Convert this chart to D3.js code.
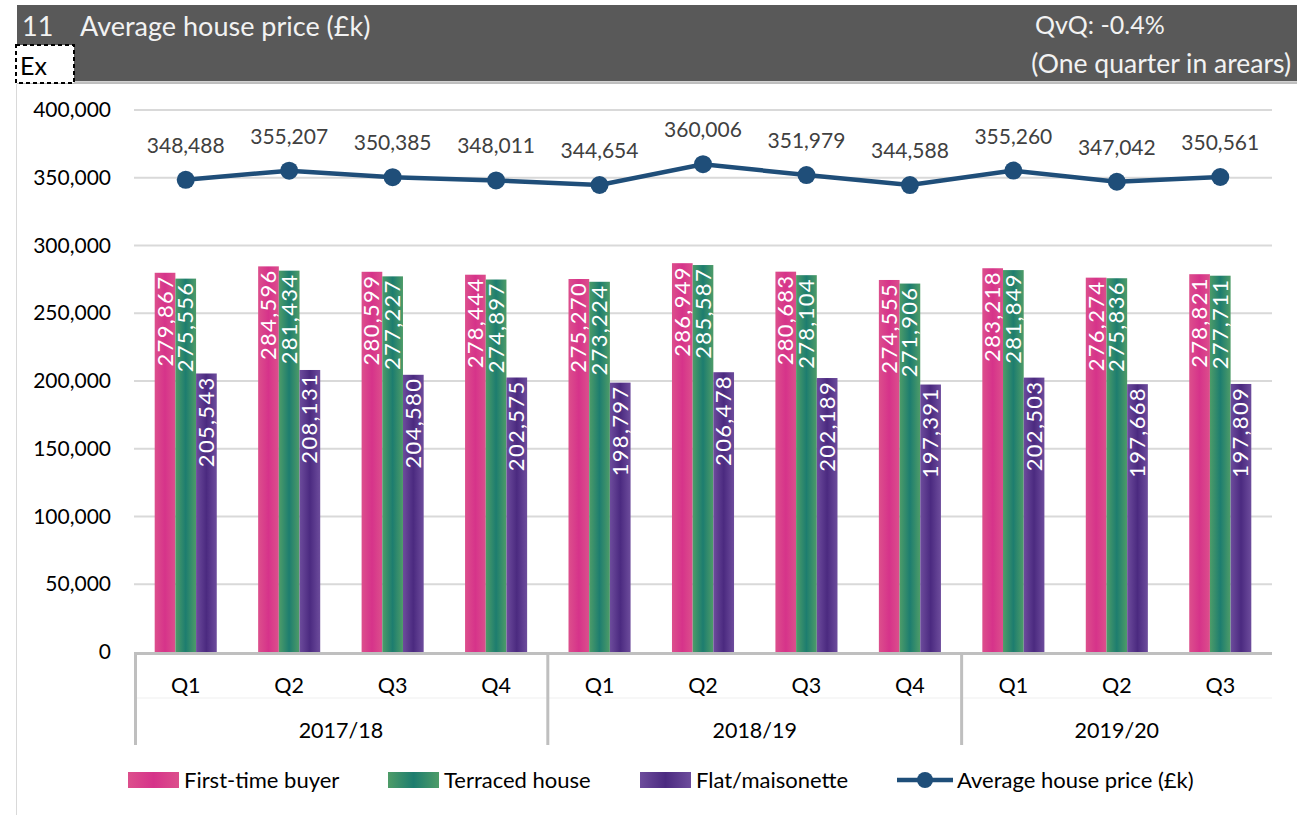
<!DOCTYPE html>
<html>
<head>
<meta charset="utf-8">
<script src="https://cdnjs.cloudflare.com/ajax/libs/d3/7.8.5/d3.min.js"></script>
<style>
  html, body { margin: 0; padding: 0; background: #fff; }
  svg { display: block; font-family: Lato, "Open Sans", sans-serif; }
</style>
</head>
<body>
<script>
// chart data
var quarters = ["Q1","Q2","Q3","Q4","Q1","Q2","Q3","Q4","Q1","Q2","Q3"];
var years = ["2017/18","2018/19","2019/20"];
var yearSpans = [4, 4, 3];
var firstTime = [279867,284596,280599,278444,275270,286949,280683,274555,283218,276274,278821];
var terraced  = [275556,281434,277227,274897,273224,285587,278104,271906,281849,275836,277711];
var flats     = [205543,208131,204580,202575,198797,206478,202189,197391,202503,197668,197809];
var average   = [348488,355207,350385,348011,344654,360006,351979,344588,355260,347042,350561];
var yTicks = [0,50000,100000,150000,200000,250000,300000,350000,400000];
var seriesNames = ["First-time buyer","Terraced house","Flat/maisonette"];
var lineName = "Average house price (£k)";

var width = 1297, height = 815;
var plotL = 134, plotR = 1272, plotT = 110, plotB = 652;

var svg = d3.select("body").append("svg")
  .attr("width", width).attr("height", height);

// gradients for the bars (lighter edges)
var defs = svg.append("defs");
var grads = [
  {id: "gPink",   edge: "#dc4f8c", mid: "#d6338a"},
  {id: "gGreen",  edge: "#4e9c68", mid: "#1d7d6f"},
  {id: "gPurple", edge: "#6d4c9c", mid: "#4b2a80"}
];
grads.forEach(function(g) {
  var lg = defs.append("linearGradient").attr("id", g.id)
    .attr("x1", "0").attr("x2", "1").attr("y1", "0").attr("y2", "0");
  lg.append("stop").attr("offset", "0%").attr("stop-color", g.edge);
  lg.append("stop").attr("offset", "50%").attr("stop-color", g.mid);
  lg.append("stop").attr("offset", "100%").attr("stop-color", g.edge);
});

// header band
svg.append("rect").attr("x", 17).attr("y", 5).attr("width", width - 17).attr("height", 76)
  .attr("fill", "#595959");
svg.append("line").attr("x1", 17).attr("x2", width).attr("y1", 81.5).attr("y2", 81.5)
  .attr("stroke", "#d0d0d0").attr("stroke-width", 1);
svg.append("line").attr("x1", 17).attr("x2", width).attr("y1", 83).attr("y2", 83)
  .attr("stroke", "#7f7f7f").attr("stroke-width", 1);
svg.append("line").attr("x1", 16.5).attr("x2", 16.5).attr("y1", 84).attr("y2", height)
  .attr("stroke", "#d9d9d9").attr("stroke-width", 1);

svg.append("text").attr("x", 22).attr("y", 36).attr("fill", "#f2f2f2")
  .style("font-size", "27px").text("11");
svg.append("text").attr("x", 80).attr("y", 36).attr("fill", "#f2f2f2")
  .style("font-size", "27px").text("Average house price (£k)");
svg.append("text").attr("x", 1035).attr("y", 34).attr("fill", "#f2f2f2")
  .style("font-size", "25px").text("QvQ: -0.4%");
svg.append("text").attr("x", 1291).attr("y", 73).attr("fill", "#f2f2f2")
  .attr("text-anchor", "end").style("font-size", "26.5px").text("(One quarter in arears)");

svg.append("rect").attr("x", 16).attr("y", 45).attr("width", 58).attr("height", 38)
  .attr("fill", "#fff").attr("stroke", "#000").attr("stroke-width", 2)
  .attr("stroke-dasharray", "4,3");
svg.append("text").attr("x", 20).attr("y", 75).attr("fill", "#000")
  .style("font-size", "25px").text("Ex");

// scales
var x = d3.scaleBand().domain(d3.range(quarters.length)).range([plotL, plotR])
  .paddingInner(0.4).paddingOuter(0.2);
var xStep = (plotR - plotL) / quarters.length;
var xc = function(i) { return plotL + xStep * (i + 0.5); };
var y = d3.scaleLinear().domain([0, 400000]).range([plotB, plotT]);
var sub = d3.scaleBand().domain([0,1,2]).range([0, x.bandwidth()]);

// gridlines
svg.append("g").selectAll("line").data(yTicks.slice(1)).enter().append("line")
  .attr("x1", plotL).attr("x2", plotR)
  .attr("y1", function(d) { return y(d); }).attr("y2", function(d) { return y(d); })
  .attr("stroke", "#d9d9d9").attr("stroke-width", 2);

// y axis labels
var fmt = d3.format(",");
var yAxis = svg.append("g").attr("transform", "translate(" + plotL + ",0)")
  .call(d3.axisLeft(y).tickValues(yTicks).tickFormat(fmt).tickSize(0).tickPadding(23));
yAxis.select(".domain").remove();
yAxis.selectAll("text").style("font-size", "21px").attr("fill", "#000")
  .style("font-family", "Lato, sans-serif");

// bars
var series = [firstTime, terraced, flats];
series.forEach(function(vals, s) {
  var g = svg.append("g");
  g.selectAll("rect").data(vals).enter().append("rect")
    .attr("x", function(d, i) { return x(i) + sub(s); })
    .attr("y", function(d) { return y(d); })
    .attr("width", sub.bandwidth())
    .attr("height", function(d) { return plotB - y(d); })
    .attr("fill", "url(#" + grads[s].id + ")");
  g.selectAll("text").data(vals).enter().append("text")
    .attr("transform", function(d, i) {
      var cx = x(i) + sub(s) + sub.bandwidth() / 2;
      return "translate(" + (cx + 7.5) + "," + (y(d) + 3) + ") rotate(-90)";
    })
    .attr("text-anchor", "end").attr("fill", "#fff")
    .style("font-size", "22px").style("letter-spacing", "1.3px")
    .text(function(d) { return fmt(d); });
});

// category axis
svg.append("line").attr("x1", plotL).attr("x2", plotR)
  .attr("y1", plotB + 1.5).attr("y2", plotB + 1.5)
  .attr("stroke", "#bfbfbf").attr("stroke-width", 3);
svg.append("line").attr("x1", plotL).attr("x2", plotR)
  .attr("y1", 698).attr("y2", 698).attr("stroke", "#efefef").attr("stroke-width", 1);

var cum = 0, dividers = [0];
yearSpans.forEach(function(n) { cum += n; dividers.push(cum); });
svg.append("g").selectAll("line").data(dividers.slice(0, 3)).enter().append("line")
  .attr("x1", function(d) { return plotL + xStep * d + (d === 0 ? 1.5 : 0); })
  .attr("x2", function(d) { return plotL + xStep * d + (d === 0 ? 1.5 : 0); })
  .attr("y1", plotB).attr("y2", 745)
  .attr("stroke", "#bfbfbf").attr("stroke-width", 3);

svg.append("g").selectAll("text").data(quarters).enter().append("text")
  .attr("x", function(d, i) { return xc(i); }).attr("y", 693)
  .attr("text-anchor", "middle").attr("fill", "#000").style("font-size", "21.5px")
  .text(function(d) { return d; });

svg.append("g").selectAll("text").data(years).enter().append("text")
  .attr("x", function(d, i) { return plotL + xStep * (dividers[i] + dividers[i + 1]) / 2; })
  .attr("y", 738).attr("text-anchor", "middle").attr("fill", "#000")
  .style("font-size", "21.5px").text(function(d) { return d; });

// average line
var line = d3.line().x(function(d, i) { return xc(i); }).y(function(d) { return y(d); });
svg.append("path").datum(average).attr("d", line)
  .attr("fill", "none").attr("stroke", "#1f4e79").attr("stroke-width", 4.5);
svg.append("g").selectAll("circle").data(average).enter().append("circle")
  .attr("cx", function(d, i) { return xc(i); }).attr("cy", function(d) { return y(d); })
  .attr("r", 9).attr("fill", "#1f4e79");
svg.append("g").selectAll("text").data(average).enter().append("text")
  .attr("x", function(d, i) { return xc(i); }).attr("y", function(d) { return y(d) - 27; })
  .attr("text-anchor", "middle").attr("fill", "#404040").style("font-size", "21px")
  .text(function(d) { return fmt(d); });

// legend
var legX = [128, 388, 640];
seriesNames.forEach(function(n, s) {
  svg.append("rect").attr("x", legX[s]).attr("y", 772).attr("width", 51).attr("height", 16)
    .attr("fill", "url(#" + grads[s].id + ")");
  svg.append("text").attr("x", legX[s] + 56).attr("y", 788).attr("fill", "#000")
    .style("font-size", "22px").text(n);
});
svg.append("line").attr("x1", 897).attr("x2", 953).attr("y1", 780).attr("y2", 780)
  .attr("stroke", "#1f4e79").attr("stroke-width", 4.5);
svg.append("circle").attr("cx", 925).attr("cy", 780).attr("r", 8).attr("fill", "#1f4e79");
svg.append("text").attr("x", 957).attr("y", 788).attr("fill", "#000")
  .style("font-size", "22px").text(lineName);
</script>
</body>
</html>
